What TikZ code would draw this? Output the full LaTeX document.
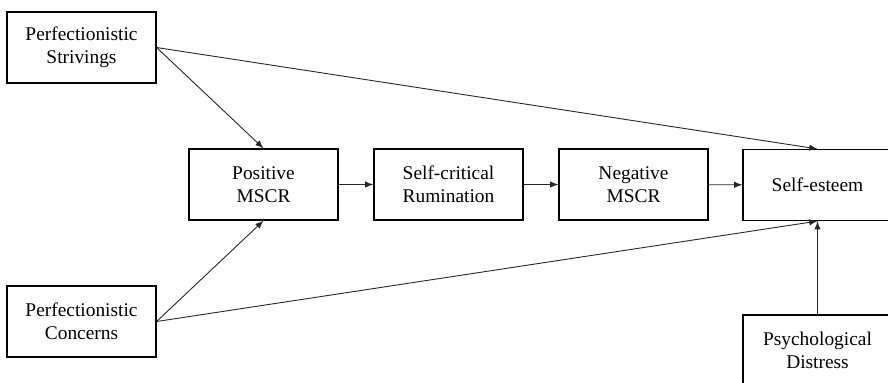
\documentclass[tikz,border=0pt]{standalone}
\usepackage{fontspec}
\setmainfont{Liberation Serif}
\newfontfamily\boxfont{Liberation Serif}
\usepackage{tikz}
\usetikzlibrary{arrows,positioning}

\begin{document}
\begin{tikzpicture}[x=0.5pt,y=-0.5pt]
				\tikzstyle{Box}		= [draw, line width=0.6pt, align=center, minimum width=74.5pt, minimum height=35.5pt, inner sep=0pt, font=\boxfont\fontsize{9.7}{11.6}\selectfont]
				\tikzstyle{Path}	= [-latex, line width=0.45pt, black!85]
				
				\useasboundingbox (0,0) rectangle (888,382);
				\clip (0,0) rectangle (888,382);
				
				\node (strive) at (81.5,47.5) [Box] {Perfectionistic\\Strivings};
				\node (concern) at (81.5,321.5) [Box] {Perfectionistic\\Concerns};
				
				\node (posm) at (263.5,184.5) [Box] {Positive\\MSCR};
				\node (rumin) at (448.5,184.5) [Box] {Self-critical\\Rumination};
				\node (negm) at (633.5,184.5) [Box] {Negative\\MSCR};
				\node (esteem) at (817.5,185) [Box] {Self-esteem};
				
				\node (distress) at (817.5,350.5) [Box] {Psychological\\Distress};
				
				\draw (strive.east) to (posm.north) [Path];
				\draw (strive.east) to (esteem.north) [Path];
				\draw (concern.east) to (posm.south) [Path];
				\draw (concern.east) to (esteem.south) [Path];
				\draw (posm) to (rumin) [Path];
				\draw (rumin) to (negm) [Path];
				\draw (negm) to (esteem) [Path];
				\draw (distress) to (esteem) [Path];
			\end{tikzpicture}
\end{document}
